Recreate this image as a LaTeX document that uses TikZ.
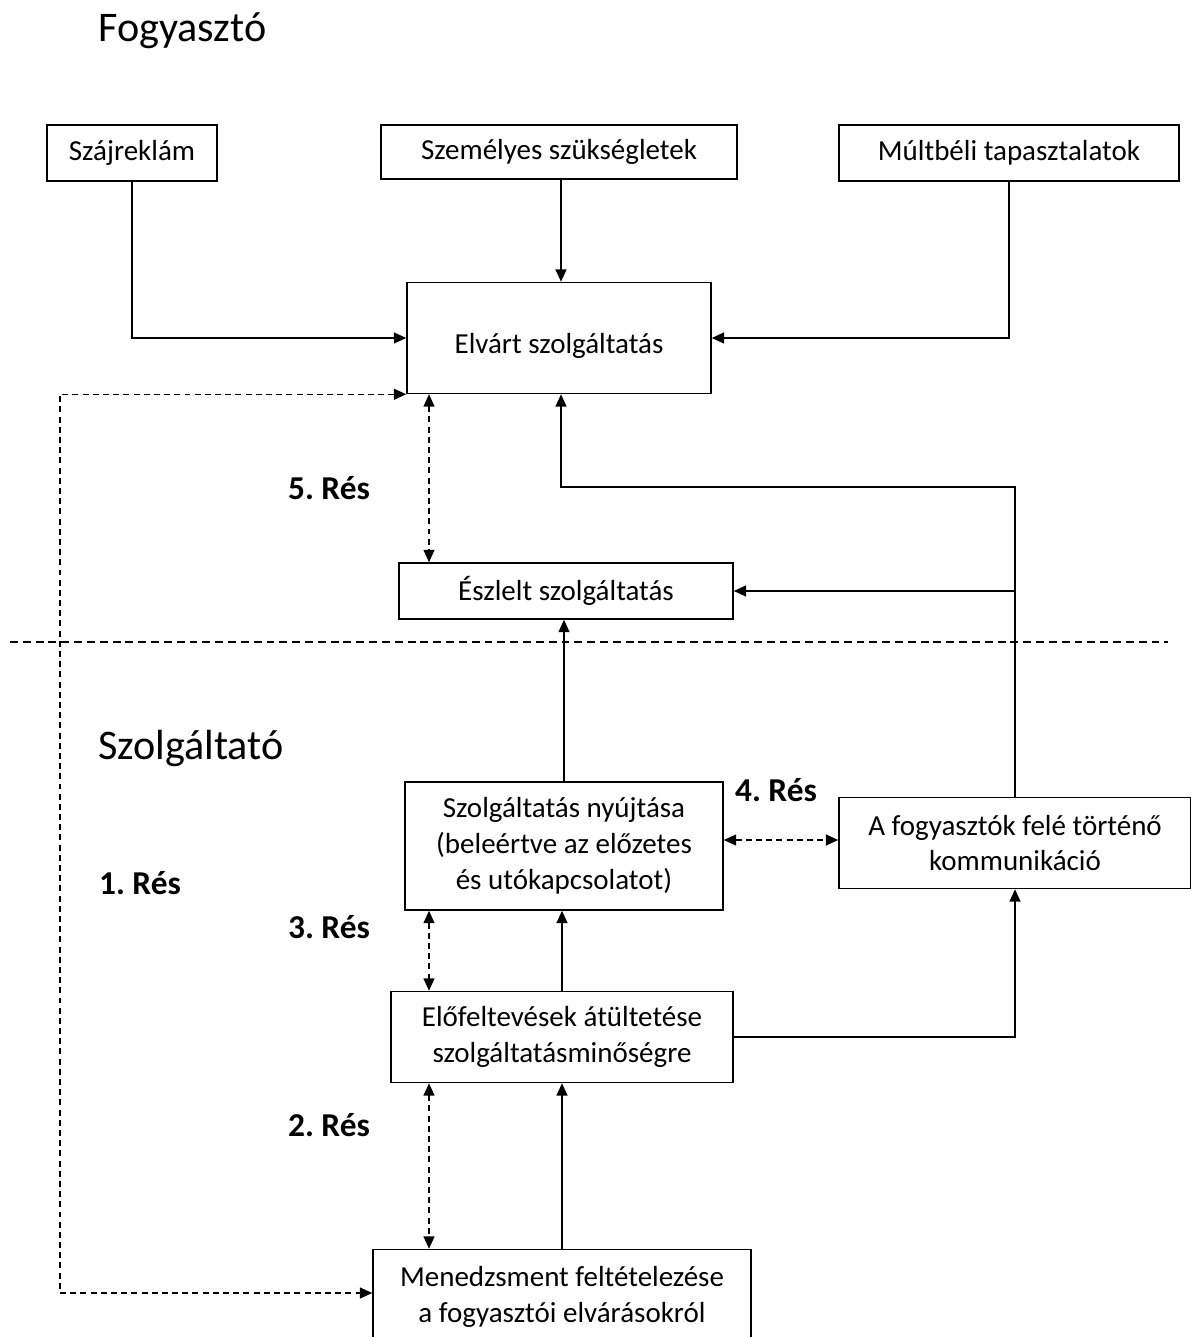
\documentclass[tikz,border=0pt]{standalone}
\usepackage{fontspec}
\setmainfont{Carlito}
\usetikzlibrary{arrows.meta,positioning}

\begin{document}
\frenchspacing
\begin{tikzpicture}[x=0.02cm, y=-0.02cm,
    box/.style={draw, line width=0.9pt, inner sep=0pt, align=center,
      font=\fontsize{16.5}{20.4}\selectfont},
    arr/.style={line width=0.9pt, -{Triangle[length=7pt, width=6.2pt]}},
    gaparr/.style={line width=0.8pt, dash pattern=on 3.4pt off 2.4pt,
      {Triangle[length=7pt, width=6.2pt]}-{Triangle[length=7pt, width=6.2pt]}},
    side/.style={anchor=west, font=\fontsize{24}{28}\selectfont},
    gaplabel/.style={font=\fontsize{19}{22}\selectfont\bfseries}]
  \useasboundingbox (0,0) rectangle (1190,1337);

  % Section titles
  \node[side] (cons) at (92,31) {Fogyasztó};
  \node[side] (prov) at (92,748) {Szolgáltató};

  % Consumer side
  \node[box, minimum width=3.4cm, minimum height=1.12cm] (szaj) at (132,153) {Szájreklám};
  \node[box, minimum width=7.12cm, minimum height=1.08cm] (szem) at (559,152) {Személyes szükségletek};
  \node[box, minimum width=6.8cm, minimum height=1.12cm] (mult) at (1009,153) {Múltbéli tapasztalatok};
  \node[box, minimum width=6.08cm, minimum height=2.22cm, text height=21pt, text depth=3.5pt] (elvart) at (559,338) {Elvárt szolgáltatás};
  \node[box, minimum width=6.68cm, minimum height=1.12cm] (eszlelt) at (566,591) {Észlelt szolgáltatás};

  % Provider side
  \node[box, minimum width=6.36cm, minimum height=2.56cm] (nyujt) at (564,846)
    {Szolgáltatás nyújtása\\(beleértve az előzetes\\és utókapcsolatot)};
  \node[box, minimum width=7.04cm, minimum height=1.82cm] (komm) at (1015,843)
    {A fogyasztók felé történő\\kommunikáció};
  \node[box, minimum width=6.84cm, minimum height=1.82cm] (elofelt) at (562,1037)
    {Előfeltevések átültetése\\szolgáltatásminőségre};
  \node[box, minimum width=7.56cm, minimum height=1.9cm] (menedzs) at (562,1297)
    {Menedzsment feltételezése\\a fogyasztói elvárásokról};

  % Border between the two sides
  \draw[line width=0.8pt, dash pattern=on 4.5pt off 2.8pt] (10,642) -- (1168,642);

  % Helper points
  \coordinate (gx) at (429,0);
  \coordinate (gy) at (0,840);
  \coordinate (leftx) at (60,1293);
  \coordinate (bend) at (561,487);

  % Solid connectors
  \draw[arr] (szaj.south) |- (elvart.west);
  \draw[arr] (szem.south -| 561,0) -- (elvart.north -| 561,0);
  \draw[arr] (mult.south) |- (elvart.east);
  \draw[arr] (komm.north) |- (bend) -- (elvart.south -| bend);
  \draw[arr] (komm.north |- eszlelt.east) -- (eszlelt.east);
  \draw[arr] (nyujt.north) -- (nyujt.north |- eszlelt.south);
  \draw[arr] (elofelt.north) -- (elofelt.north |- nyujt.south);
  \draw[arr] (elofelt.east) -| (komm.south);
  \draw[arr] (menedzs.north) -- (menedzs.north |- elofelt.south);

  % Gaps
  \draw[gaparr] (elvart.south west) -| (leftx) -- (menedzs.west |- leftx);
  \draw[gaparr] (elvart.south -| gx) -- (eszlelt.north -| gx);
  \draw[gaparr] (nyujt.east |- gy) -- (komm.west |- gy);
  \draw[gaparr] (nyujt.south -| gx) -- (elofelt.north -| gx);
  \draw[gaparr] (elofelt.south -| gx) -- (menedzs.north -| gx);

  \node[gaplabel] (res5) at (329,488) {5. Rés};
  \node[gaplabel] (res4) at (776,790) {4. Rés};
  \node[gaplabel] (res1) at (140,883) {1. Rés};
  \node[gaplabel] (res3) at (329,927) {3. Rés};
  \node[gaplabel] (res2) at (329,1125) {2. Rés};
\end{tikzpicture}
\end{document}
